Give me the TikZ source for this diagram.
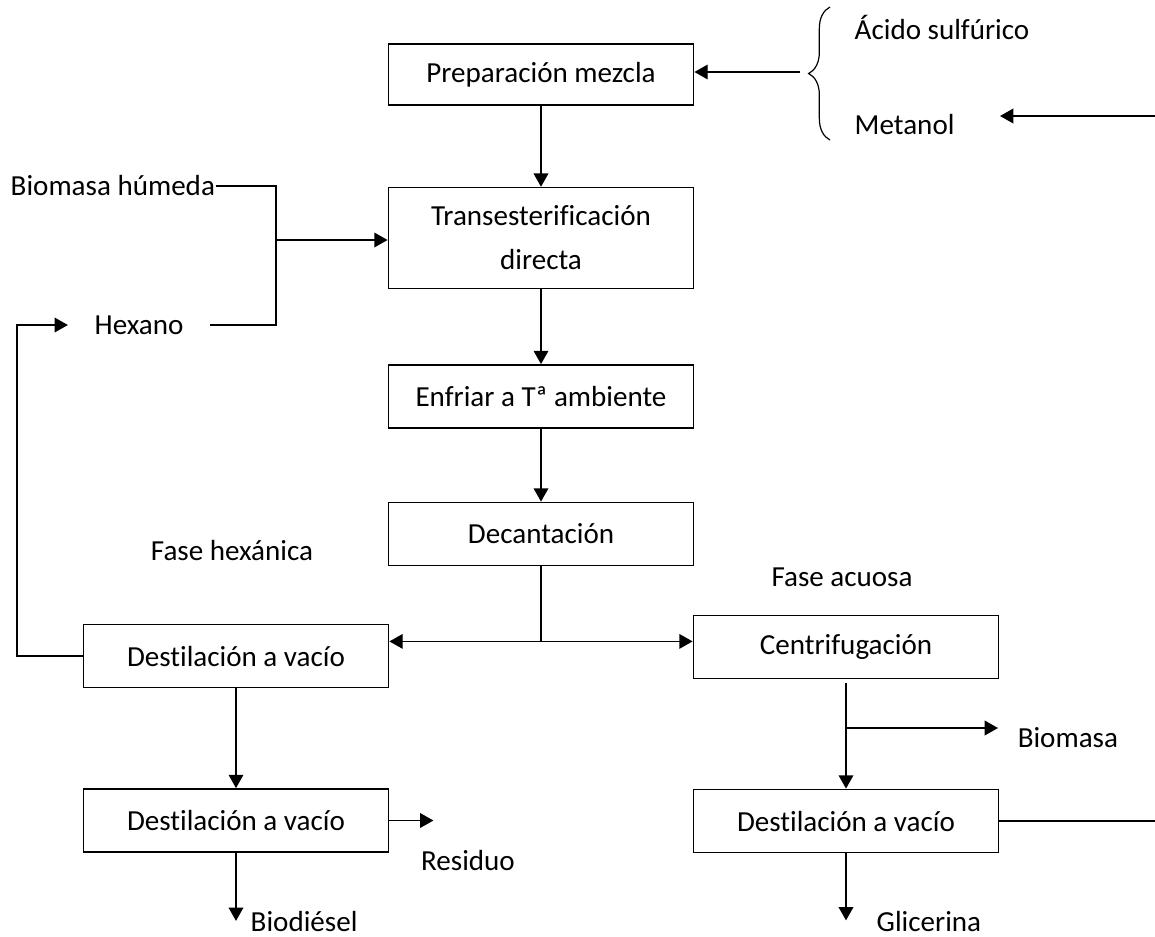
\documentclass[tikz,border=0pt]{standalone}
\usepackage{fontspec}
\setmainfont{Carlito}[Ligatures=CommonOff]
\usepackage{tikz}
\usetikzlibrary{arrows.meta,positioning,calc,decorations.pathreplacing}
\tikzset{
  box/.style={draw, minimum width=229pt, minimum height=47.5pt, inner sep=0pt, align=center},
  lbl/.style={inner sep=0pt},
  arr/.style={-{Triangle[length=10pt,width=11pt]}},
}

\begin{document}
\begin{tikzpicture}[x=0.75pt, y=-0.75pt, line width=1.1pt, font=\fontsize{21.8}{33}\selectfont]
  \useasboundingbox (0,0) rectangle (1155,936);
  \node[box, minimum height=45.75pt] (prep) at (541,74.5) {Preparación mezcla};
  \node[box, minimum height=75.75pt] (trans) at (541,238) {Transesterificación\\directa};
  \node[box] (cool) at (541,396.5) {Enfriar a Tª ambiente};
  \node[box] (dec) at (541,534) {Decantación};
  \node[box] (dv1) at (236,656) {Destilación a vacío};
  \node[box] (dv2) at (236,820.5) {Destilación a vacío};
  \node[box] (cen) at (846,647) {Centrifugación};
  \node[box] (dv3) at (846,821) {Destilación a vacío};

  \node[lbl, anchor=west] (acid) at (854,27) {Ácido sulfúrico};
  \node[lbl, anchor=west] (met) at (854,125) {Metanol};
  \node[lbl, anchor=west] (bh) at (10,186) {Biomasa húmeda};
  \node[inner ysep=0pt, inner xsep=19.5pt] (hex) at (139,325) {Hexano};
  \node[lbl] (fh) at (232,551) {Fase hexánica};
  \node[lbl] (fa) at (842,577) {Fase acuosa};
  \node[lbl, anchor=west] (bio) at (1017,738) {Biomasa};
  \node[lbl, anchor=center] (res) at (468,860) {Residuo};
  \node[lbl, anchor=base west] (bd) at (250,931) {Biodiésel};
  \node[lbl, anchor=base west] (gli) at (876,931) {Glicerina};

  \draw[line width=0.9pt, decorate, decoration={brace, amplitude=16pt}] (830,140) -- (830,7);
  \coordinate (bt) at (800,72);
  \draw[arr] (bt) -- (prep.east |- bt);
  \draw[arr] (1155,116) -- (1000,116) coordinate (mt);

  \draw (bh.east) -- (276,186) coordinate (jt) -- (276,325) coordinate (jb) -- (hex.east);
  \coordinate (mix) at (276,240);
  \draw[arr] (mix) -- (trans.west |- mix);

  \draw[arr] (prep) -- (trans);
  \draw[arr] (trans) -- (cool);
  \draw[arr] (cool) -- (dec);
  \draw (dec.south) -- ++(0,75) coordinate (split);
  \draw[arr] (split) -- (dv1.east |- split);
  \draw[arr] (split) -- (cen.west |- split);

  \draw[arr] (dv1.west) -- (17,656) |- (hex.west);
  \draw[arr] (dv1) -- (dv2);
  \draw[arr] (dv2.east) -- ++(44,0) coordinate (re);
  \draw[arr] (dv2.south) -- ++(0,68) coordinate (be);

  \draw[arr] (cen.south) ++(0,4) coordinate (ct) -- (dv3.north);
  \draw[arr] (ct |- 0,728) coordinate (cb) -- (998,728);
  \draw (dv3.east) -- (1155,821) coordinate (ge);
  \draw[arr] (dv3.south) -- ++(0,67) coordinate (gl);
\end{tikzpicture}
\end{document}
